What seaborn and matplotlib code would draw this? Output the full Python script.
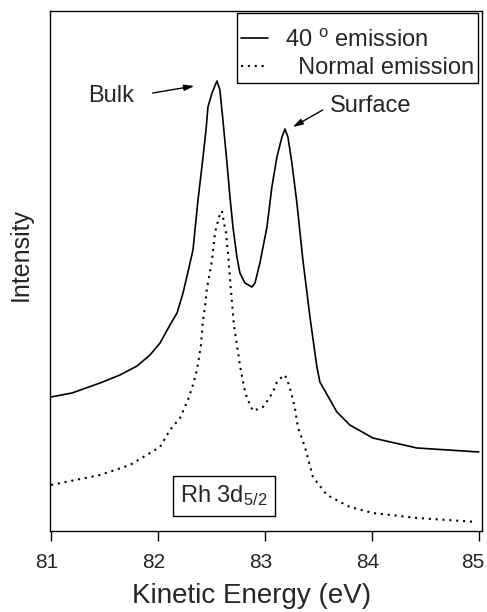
import pandas as pd
import seaborn as sns
import matplotlib
matplotlib.use("Agg")
import matplotlib.pyplot as plt
import matplotlib.transforms as mtransforms

# ============ Data ============
energy_40 = [81.000, 81.196, 81.458, 81.645, 81.804, 81.925, 82.019, 82.112, 82.178,
             82.234, 82.280, 82.327, 82.374, 82.421, 82.449, 82.467, 82.505, 82.551,
             82.579, 82.607, 82.645, 82.673, 82.701, 82.738, 82.766, 82.813, 82.879,
             82.907, 82.953, 83.019, 83.065, 83.112, 83.159, 83.187, 83.215, 83.252,
             83.299, 83.355, 83.421, 83.486, 83.514, 83.673, 83.794, 84.009, 84.421,
             85.000]
intensity_40 = [1.34, 1.38, 1.48, 1.56, 1.65, 1.76, 1.88, 2.06, 2.18,
                2.38, 2.59, 2.81, 3.31, 3.74, 4.01, 4.24, 4.38, 4.50,
                4.41, 4.11, 3.68, 3.34, 3.04, 2.74, 2.58, 2.48, 2.44,
                2.48, 2.68, 3.04, 3.44, 3.74, 3.94, 4.02, 3.94, 3.68,
                3.28, 2.71, 2.14, 1.64, 1.49, 1.19, 1.06, 0.93, 0.83,
                0.79]

energy_normal = [81.000, 81.458, 81.738, 82.019, 82.112, 82.206, 82.280, 82.327, 82.364,
                 82.402, 82.421, 82.439, 82.458, 82.477, 82.505, 82.533, 82.551, 82.570,
                 82.598, 82.617, 82.636, 82.654, 82.682, 82.710, 82.748, 82.766, 82.804,
                 82.832, 82.888, 82.935, 82.981, 83.028, 83.075, 83.112, 83.159, 83.187,
                 83.215, 83.252, 83.280, 83.308, 83.374, 83.449, 83.579, 83.794, 84.009,
                 84.421, 84.981]
intensity_normal = [0.46, 0.56, 0.66, 0.84, 1.01, 1.13, 1.31, 1.46, 1.61,
                    1.86, 2.11, 2.24, 2.43, 2.54, 2.71, 2.98, 3.06, 3.14,
                    3.20, 3.08, 2.98, 2.78, 2.41, 2.06, 1.79, 1.66, 1.44,
                    1.33, 1.20, 1.22, 1.24, 1.31, 1.39, 1.49, 1.54, 1.56,
                    1.49, 1.36, 1.23, 1.04, 0.84, 0.54, 0.36, 0.24, 0.18,
                    0.13, 0.09]

x_ticks = [81, 82, 83, 84, 85]
label_40 = "40 $^{\\mathrm{o}}$ emission"
label_normal = "  Normal emission"

df_40 = pd.DataFrame({"energy": energy_40, "intensity": intensity_40})
df_normal = pd.DataFrame({"energy": energy_normal, "intensity": intensity_normal})

# ============ font style ============
sns.set_style("white")
plt.rcParams['font.family'] = ['Liberation Sans', 'DejaVu Sans']
plt.rcParams['mathtext.fontset'] = 'custom'
plt.rcParams['mathtext.rm'] = 'Liberation Sans'
plt.rcParams['mathtext.it'] = 'Liberation Sans:italic'

# ============ Plot ============
fig = plt.figure(figsize=(4.87, 6.12), dpi=100)
ax = fig.add_axes([0.1027, 0.1324, 0.887, 0.8496])

sns.lineplot(data=df_40, x="energy", y="intensity", ax=ax, color="black",
             lw=1.2, label=label_40)
sns.lineplot(data=df_normal, x="energy", y="intensity", ax=ax, color="black",
             lw=1.5, linestyle=(0, (1, 2.3)), label=label_normal)

ax.set_xlim(80.99, 85.03)
ax.set_ylim(0, 5.2)
ax.set_xticks(x_ticks)
ax.set_yticks([])
ax.tick_params(axis="x", direction="out", length=7, width=1, pad=9,
               labelsize=15, bottom=True, color="black")
for sp in ax.spines.values():
    sp.set_color("black")
    sp.set_linewidth(1.0)

# tick labels sit a little left of their ticks; keep "85" inside the figure
labels = ax.get_xticklabels()
for i, lab in enumerate(labels):
    dx = -6 if i == len(labels) - 1 else -4
    lab.set_transform(lab.get_transform() +
                      mtransforms.ScaledTranslation(dx / 100, 0, fig.dpi_scale_trans))

ax.set_xlabel("Kinetic Energy (eV)", fontsize=20, labelpad=9)
ax.xaxis.set_label_coords(0.4676, -0.1)
ax.set_ylabel("Intensity", fontsize=18)
ax.yaxis.set_label_coords(-0.04, 0.531)

# ---- legend ----
leg = ax.legend(loc="upper right", bbox_to_anchor=(0.991, 0.996), borderaxespad=0,
                fontsize=17, frameon=True, fancybox=False, framealpha=1,
                edgecolor="black", handlelength=1.15, handletextpad=0.7,
                labelspacing=0.22, borderpad=0.18, title=" ", title_fontsize=6)
leg.get_frame().set_linewidth(1.0)

# ---- annotations ----
arrow = dict(arrowstyle="-|>,head_length=0.6,head_width=0.18", color="black",
             lw=1.0, shrinkA=0, shrinkB=0)
ax.text(81.56, 4.35, "Bulk", fontsize=17, ha="center", va="center")
ax.annotate("", xy=(82.34, 4.45), xytext=(81.95, 4.38), arrowprops=arrow)
ax.text(83.99, 4.25, "Surface", fontsize=17, ha="center", va="center")
ax.annotate("", xy=(83.26, 4.04), xytext=(83.54, 4.21), arrowprops=arrow)

ax.text(82.617, 0.35, "Rh 3d$_{5/2}$", fontsize=17, ha="center", va="center",
        bbox=dict(boxstyle="square,pad=0.32", fc="white", ec="black", lw=1.0))

fig.savefig("out.png", dpi=100)
